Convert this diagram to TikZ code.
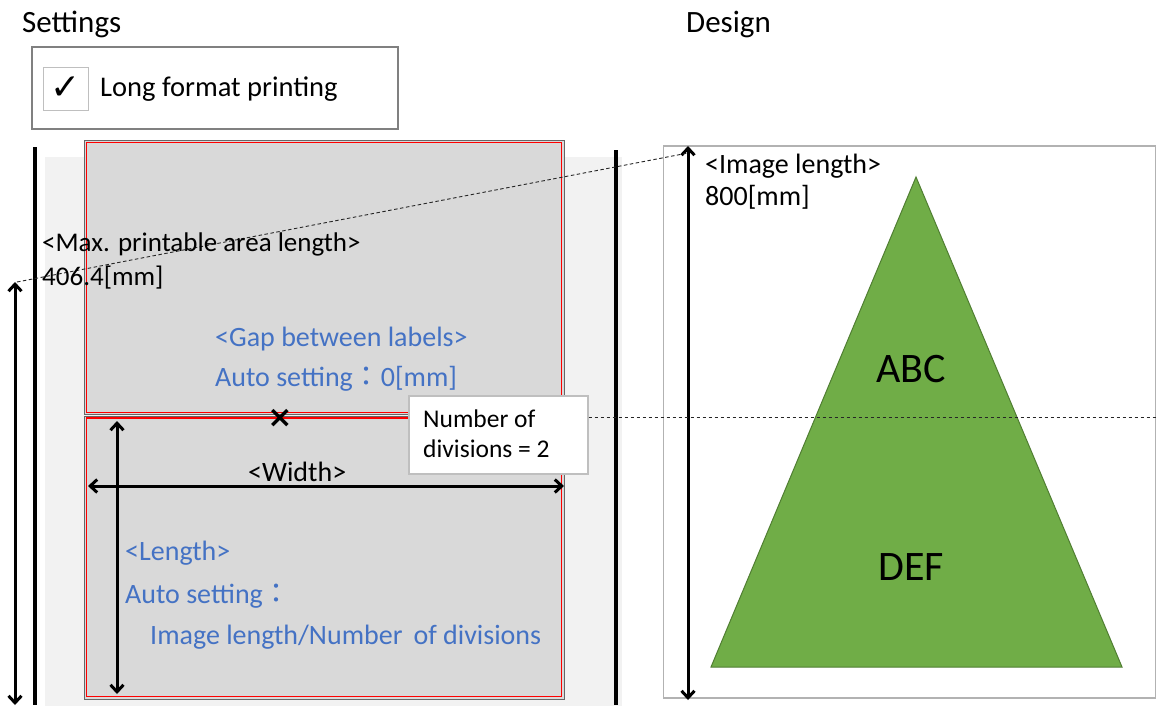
\documentclass[tikz,border=0pt]{standalone}
\usepackage{fontspec}
\setmainfont{Carlito}
\newfontfamily\dejavu{DejaVu Sans}
\newfontfamily\cjk{Noto Sans CJK JP}
\usetikzlibrary{arrows.meta}
\definecolor{bluetxt}{HTML}{4472C4}
\definecolor{lblfill}{HTML}{D9D9D9}
\definecolor{areafill}{HTML}{F2F2F2}
\definecolor{tri}{HTML}{70AD47}
\definecolor{tridark}{HTML}{507E32}
\tikzset{
  txt/.style={anchor=west,inner sep=0pt,font=\fontsize{28}{32}\selectfont},
  bluet/.style={txt,text=bluetxt},
  dimarrow/.style={line width=3pt,{Straight Barb[length=7pt,width=13pt]}-{Straight Barb[length=7pt,width=13pt]}},
  barline/.style={line width=3.2pt},
  lblrect/.style={fill=lblfill,draw=black!60,line width=1pt},
  redline/.style={draw=red,line width=1.4pt},
  guide/.style={line width=0.9pt,dash pattern=on 3.5pt off 2.5pt,black!85}
}
\begin{document}
\begin{tikzpicture}[x=1pt,y=-1pt]
\useasboundingbox (0,0) rectangle (1156,707);
% titles
\node[txt,font=\fontsize{31}{34}\selectfont] (settings) at (22,24) {Settings};
\node[txt,font=\fontsize{31}{34}\selectfont] (design) at (686,24) {Design};
% checkbox frame
\node[draw=black!50,line width=2.8pt,minimum width=366pt,minimum height=82pt,inner sep=0pt] (frame) at (215,88) {};
\node[draw=black!25,line width=1pt,minimum width=45pt,minimum height=43pt,inner sep=0pt] (cbox) at (65.5,88.5) {};
\node[inner sep=0pt,font=\dejavu\fontsize{36}{36}\selectfont] (check) at (cbox.center) {✓};
\node[txt,font=\fontsize{28.5}{32}\selectfont] (lfp) at (100,89) {Long format printing};
% printable area background
\fill[areafill] (45,157) rectangle (622,706);
% label rectangles
\draw[lblrect] (84,140) rectangle (564,414.5);
\draw[redline] (86.5,142.5) rectangle (561.5,412.5);
\draw[lblrect] (84,416) rectangle (564,699);
\draw[redline] (86.5,418) rectangle (561.5,696.5);
% bars
\coordinate (lb1) at (35,147); \coordinate (lb2) at (35,705);
\draw[barline] (lb1) -- (lb2);
\coordinate (rb1) at (616,150); \coordinate (rb2) at (616,705);
\draw[barline] (rb1) -- (rb2);
% design frame
\draw[draw=black!30,line width=1.2pt,fill=white] (663.5,146) rectangle (1155.5,698);
% triangle
\coordinate (ta) at (916,177); \coordinate (tb) at (711,667); \coordinate (tc) at (1122,667);
\draw[fill=tri,draw=tridark,line width=1pt] (ta) -- (tb) -- (tc) -- cycle;
\node[inner sep=0pt,font=\fontsize{42}{46}\selectfont] (abc) at (911,369) {ABC};
\node[inner sep=0pt,font=\fontsize{42}{46}\selectfont] (def) at (911,567) {DEF};
% dimension arrows
\coordinate (ma1) at (15,282); \coordinate (ma2) at (15,705);
\draw[dimarrow] (ma1) -- (ma2);
\coordinate (ia1) at (688,146); \coordinate (ia2) at (688,700);
\draw[dimarrow] (ia1) -- (ia2);
\coordinate (wa1) at (88,486); \coordinate (wa2) at (564,486);
\draw[dimarrow] (wa1) -- (wa2);
\coordinate (la1) at (117,421); \coordinate (la2) at (117,694);
\draw[dimarrow] (la1) -- (la2);
% guides
\coordinate (g1) at (17,282); \coordinate (g2) at (688,153);
\draw[guide] (g1) -- (g2);
% texts
\node[txt,font=\fontsize{27}{30}\selectfont] (maxl1) at (42,244) {<Max. printable area length>};
\node[txt,font=\fontsize{27}{30}\selectfont] (maxl2) at (42,278) {406.4[mm]};
\node[txt] (iml1) at (705,166) {<Image length>};
\node[txt] (iml2) at (705,197) {800[mm]};
\node[bluet] (gap1) at (215,339) {<Gap between labels>};
\node[bluet] (gap2) at (215,379) {Auto setting{\cjk ：}0[mm]};
\node[inner sep=0pt,font=\dejavu\bfseries\fontsize{30}{30}\selectfont] (cross) at (280,418) {×};
\node[txt] (width) at (248,472) {<Width>};
\node[bluet] (len1) at (125,553) {<Length>};
\node[bluet] (len2) at (125,596) {Auto setting{\cjk ：}};
\node[bluet] (len3) at (150,637) {Image length/Number\, of divisions};
% callout
\node[draw=black!25,fill=white,line width=1.2pt,minimum width=179pt,minimum height=78pt,inner sep=0pt] (callout) at (498.5,435) {};
\node[txt,font=\fontsize{25.5}{30}\selectfont] (div1) at (423,419) {Number of};
\node[txt,font=\fontsize{25.5}{30}\selectfont] (div2) at (423,449) {divisions = 2};
\coordinate (hd) at (1156,417);
\draw[guide] (callout.east |- hd) -- (hd);
\end{tikzpicture}
\end{document}
